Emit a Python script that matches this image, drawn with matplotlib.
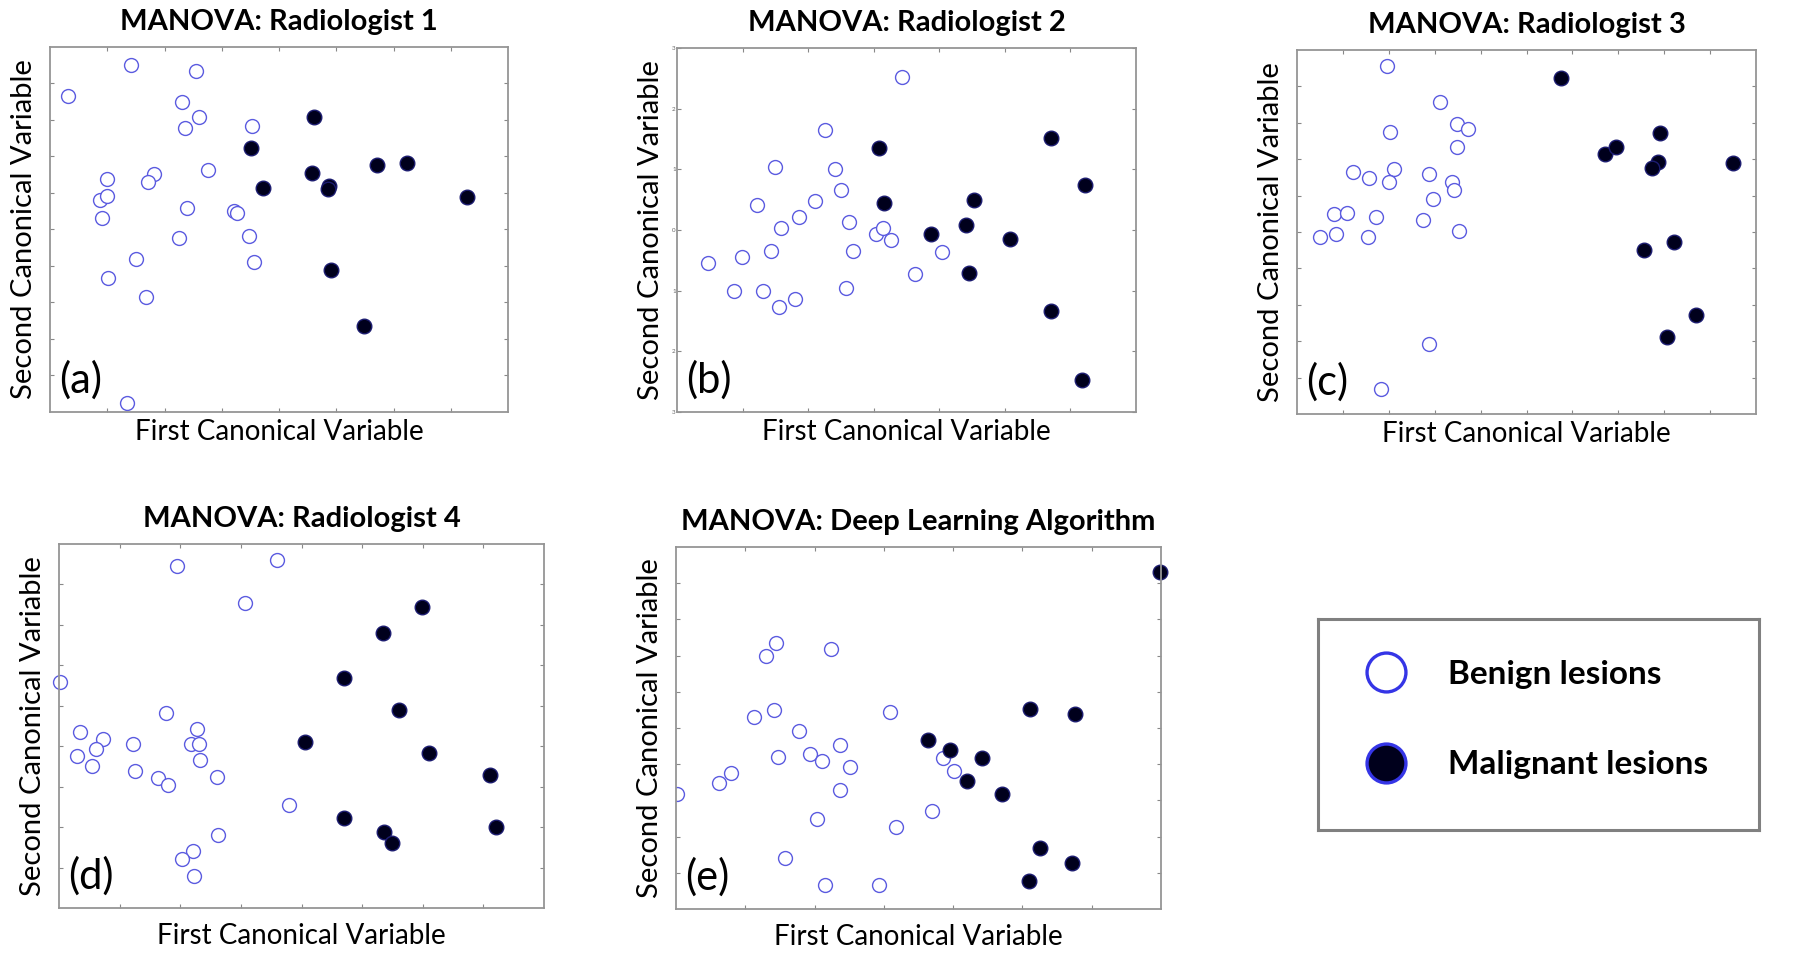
import numpy as np
import matplotlib
matplotlib.use('Agg')
import matplotlib.pyplot as plt
from matplotlib.lines import Line2D

plt.rcParams['font.family'] = ['Lato', 'DejaVu Sans']

# values, in tick units of each panel (ticks carry no labels)
# (a) Radiologist 1
a_ben_x = [0.32, 1.41, 2.55, 2.31, 2.60, 2.36, 3.53, 2.76, 1.81, 1.72, 1.00, 0.87,
           1.00, 0.91, 2.40, 3.22, 3.27, 2.25, 3.48, 3.56, 1.51, 1.01, 1.67, 1.34]
a_ben_y = [8.65, 9.52, 9.35, 8.48, 8.09, 7.78, 7.84, 6.62, 6.51, 6.30, 6.37, 5.81,
           5.92, 5.31, 5.59, 5.52, 5.45, 4.78, 4.81, 4.12, 4.20, 3.66, 3.16, 0.25]
a_mal_x = [4.62, 3.51, 3.72, 4.58, 4.88, 4.85, 5.72, 6.23, 7.28, 4.90, 5.48]
a_mal_y = [8.07, 7.24, 6.15, 6.55, 6.19, 6.10, 6.77, 6.81, 5.89, 3.89, 2.36]

# (b) Radiologist 2
b_ben_x = [3.43, 2.25, 1.49, 2.41, 2.50, 1.22, 2.10, 1.86, 1.59, 2.63, 1.44, 0.99,
           0.48, 0.87, 1.31, 1.56, 1.80, 2.57, 2.69, 3.03, 3.14, 3.27, 4.04, 3.63]
b_ben_y = [2.52, 1.65, 1.04, 1.01, 0.66, 0.42, 0.48, 0.21, 0.03, 0.13, -0.34, -0.45,
           -0.54, -1.01, -1.01, -1.27, -1.14, -0.95, -0.35, -0.07, 0.04, -0.17, -0.36, -0.73]
b_mal_x = [3.08, 3.16, 3.87, 4.41, 4.53, 4.46, 5.08, 5.70, 6.22, 5.70, 6.17]
b_mal_y = [1.35, 0.44, -0.06, 0.08, 0.49, -0.71, -0.15, 1.51, 0.75, -1.34, -2.48]

# (c) Radiologist 3
c_ben_x = [1.96, 3.11, 3.49, 3.73, 2.03, 3.49, 1.22, 1.57, 2.11, 2.01, 2.88, 3.38,
           3.41, 2.96, 0.80, 1.09, 1.73, 2.74, 0.51, 0.84, 1.55, 3.52, 2.88, 1.82]
c_ben_y = [9.56, 8.58, 7.96, 7.84, 7.75, 7.33, 6.65, 6.47, 6.73, 6.36, 6.58, 6.36,
           6.16, 5.91, 5.49, 5.52, 5.41, 5.33, 4.85, 4.94, 4.86, 5.02, 1.92, 0.69]
c_mal_x = [5.76, 6.72, 6.95, 7.90, 7.87, 7.74, 9.50, 7.57, 8.22, 8.69, 8.06]
c_mal_y = [9.22, 7.13, 7.34, 7.72, 6.91, 6.77, 6.90, 4.51, 4.72, 2.72, 2.12]

# (d) Radiologist 4
d_ben_x = [1.94, 3.59, 3.06, 0.01, 1.77, 0.35, 0.72, 0.61, 0.29, 0.54, 1.22, 1.26,
           1.64, 1.80, 2.27, 2.18, 2.31, 2.33, 2.60, 3.79, 2.62, 2.21, 2.03, 2.22]
d_ben_y = [8.46, 8.60, 7.55, 5.59, 4.83, 4.35, 4.18, 3.94, 3.77, 3.52, 4.05, 3.38,
           3.22, 3.05, 4.42, 4.05, 4.05, 3.67, 3.25, 2.55, 1.80, 1.40, 1.20, 0.78]
d_mal_x = [5.99, 5.35, 4.70, 5.60, 4.06, 6.11, 7.11, 4.70, 5.36, 5.49, 7.21]
d_mal_y = [7.45, 6.80, 5.68, 4.89, 4.10, 3.83, 3.30, 2.23, 1.87, 1.61, 2.01]

# (e) Deep learning algorithm
e_ben_x = [1.44, 1.30, 2.24, 1.12, 1.41, 3.09, 1.77, 2.36, 1.47, 1.94, 2.11, 2.51,
           0.80, 0.62, 0.02, 2.36, 3.86, 4.01, 2.04, 3.18, 3.70, 1.57, 2.15, 2.93]
e_ben_y = [7.34, 7.00, 7.18, 5.31, 5.49, 5.45, 4.92, 4.54, 4.21, 4.29, 4.10, 3.92,
           3.77, 3.48, 3.19, 3.30, 4.17, 3.81, 2.50, 2.26, 2.71, 1.41, 0.67, 0.67]
e_mal_x = [6.98, 5.11, 5.76, 3.64, 3.96, 4.41, 4.20, 4.70, 5.26, 5.71, 5.09]
e_mal_y = [9.30, 5.53, 5.38, 4.66, 4.40, 4.18, 3.54, 3.19, 1.68, 1.26, 0.76]

titles = ['MANOVA: Radiologist 1', 'MANOVA: Radiologist 2', 'MANOVA: Radiologist 3',
          'MANOVA: Radiologist 4', 'MANOVA: Deep Learning Algorithm']
letters = ['(a)', '(b)', '(c)', '(d)', '(e)']
xlims = [(0, 8), (0, 7), (0, 10), (0, 8), (0, 7)]
ylims = [(0, 10), (-3, 3), (0, 10), (0, 9), (0, 10)]
legend_labels = ['Benign lesions', 'Malignant lesions']

W, H = 1800, 961
# axes boxes in pixels: left, right, top, bottom
boxes = [(50, 508, 47, 412), (677, 1136, 48, 412), (1297, 1756, 50, 414),
         (59, 544, 544, 908), (676, 1161, 547, 909)]
xlab_gap = [20, 20, 20, 28, 28]

ben = [(a_ben_x, a_ben_y), (b_ben_x, b_ben_y), (c_ben_x, c_ben_y), (d_ben_x, d_ben_y), (e_ben_x, e_ben_y)]
mal = [(a_mal_x, a_mal_y), (b_mal_x, b_mal_y), (c_mal_x, c_mal_y), (d_mal_x, d_mal_y), (e_mal_x, e_mal_y)]

ben_edge = '#5b5be0'
mal_face = '#00001c'
mal_edge = '#1c1c70'
frame_col = '#959595'

fig = plt.figure(figsize=(W / 100, H / 100), dpi=100)

for i in range(5):
    l, r, t, b = boxes[i]
    w, h = r - l, b - t
    ax = fig.add_axes([l / W, 1 - b / H, w / W, h / H])
    ax.plot(ben[i][0], ben[i][1], 'o', ms=10, mfc='white', mec=ben_edge, mew=1.0,
            clip_on=(i == 4))
    ax.plot(mal[i][0], mal[i][1], 'o', ms=10.5, mfc=mal_face, mec=mal_edge, mew=1.0,
            clip_on=False)
    ax.set_xlim(*xlims[i])
    ax.set_ylim(*ylims[i])
    ax.set_xticks(np.arange(xlims[i][0] + 1, xlims[i][1]))
    if i == 1:
        yt = np.arange(ylims[i][0], ylims[i][1] + 1)
        ax.set_yticks(yt)
        ax.set_yticklabels([str(abs(v)) for v in yt], fontsize=4.5, color='#666666')
    else:
        ax.set_yticks(np.arange(ylims[i][0] + 1, ylims[i][1]))
        ax.set_yticklabels([])
    ax.set_xticklabels([])
    ax.tick_params(direction='in', length=3, width=0.8, color='#888888',
                   top=True, right=True, pad=1)
    for s in ax.spines.values():
        s.set_color(frame_col)
        s.set_linewidth(1.3)
    ax.set_title(titles[i], fontsize=21, fontweight='bold', y=1 + 25 / h, va='center', pad=0)
    ax.set_xlabel('First Canonical Variable', fontsize=20, va='center')
    ax.xaxis.set_label_coords(0.5, -xlab_gap[i] / h)
    ax.set_ylabel('Second Canonical Variable', fontsize=21, va='center')
    ax.yaxis.set_label_coords(-26 / w, 0.5)
    ax.text(9 / w, 32 / h, letters[i], transform=ax.transAxes, fontsize=30,
            ha='left', va='center')

# legend box
lax = fig.add_axes([1318 / W, 1 - 830 / H, 441 / W, 211 / H])
lax.set_xticks([])
lax.set_yticks([])
for s in lax.spines.values():
    s.set_color('#808080')
    s.set_linewidth(2.2)
handles = [Line2D([], [], ls='none', marker='o', ms=28, mfc='white', mec='#3535e6', mew=2.4),
           Line2D([], [], ls='none', marker='o', ms=28, mfc=mal_face, mec='#3535e6', mew=2.4)]
lax.legend(handles, legend_labels, loc='center left', bbox_to_anchor=(43 / 441, 0.524),
           borderaxespad=0, borderpad=0, frameon=False, handlelength=1.5,
           handletextpad=1.1, labelspacing=1.85, prop={'weight': 'bold', 'size': 24})

fig.savefig('out.png', dpi=100)
